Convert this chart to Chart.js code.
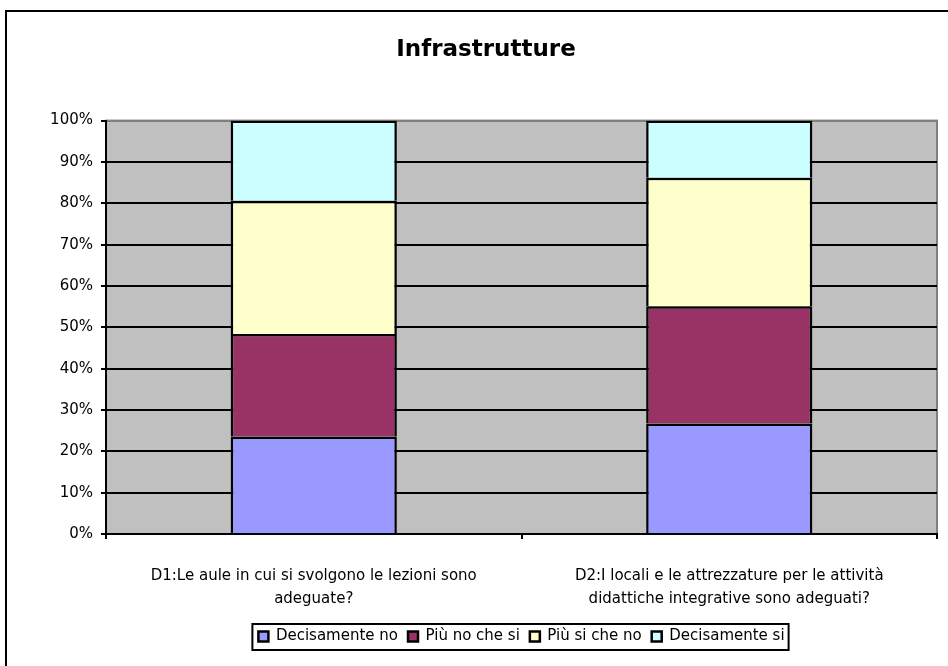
<!DOCTYPE html>
<html>
<head>
<meta charset="utf-8">
<script src="https://cdn.jsdelivr.net/npm/chart.js@4"></script>
<style>
  body { margin: 0; background: #fff; }
  canvas { display: block; }
</style>
</head>
<body>
<canvas id="chart" width="948" height="666"></canvas>
<script>
// categorie (etichette su due righe come nel grafico originale)
const categories = [
    ['D1:Le aule in cui si svolgono le lezioni sono', 'adeguate?'],
    ['D2:I locali e le attrezzature per le attività', 'didattiche integrative sono adeguati?']
];
const seriesNames = ['Decisamente no', 'Più no che si', 'Più si che no', 'Decisamente si'];
const decisamenteNo = [23.6, 26.7];
const piuNoCheSi = [24.8, 28.4];
const piuSiCheNo = [32.2, 31.1];
const decisamenteSi = [19.4, 13.8];
const yTicks = [0, 10, 20, 30, 40, 50, 60, 70, 80, 90, 100];

const colors = ['#9999ff', '#993366', '#ffffcc', '#ccffff'];
const values = [decisamenteNo, piuNoCheSi, piuSiCheNo, decisamenteSi];
const font = 'DejaVu Sans';

const plotBackground = {
    id: 'plotBackground',
    beforeDraw(chart) {
        const c = chart.ctx;
        const a = chart.chartArea;
        c.save();
        c.fillStyle = '#ffffff';
        c.fillRect(0, 0, chart.width, chart.height);
        c.fillStyle = '#c0c0c0';
        c.fillRect(a.left, a.top, a.right - a.left, a.bottom - a.top);
        c.strokeStyle = '#808080';
        c.lineWidth = 2;
        c.strokeRect(a.left, a.top, a.right - a.left, a.bottom - a.top);
        c.restore();
    },
    afterDraw(chart) {
        const c = chart.ctx;
        c.save();
        // cornice esterna del grafico
        c.strokeStyle = '#000';
        c.lineWidth = 2;
        c.beginPath();
        c.moveTo(6, chart.height + 5);
        c.lineTo(6, 11);
        c.lineTo(chart.width + 5, 11);
        c.stroke();
        // riquadro della legenda
        const hb = chart.legend.legendHitBoxes;
        if (hb && hb.length) {
            const first = hb[0], last = hb[hb.length - 1];
            const x1 = first.left - 6;
            const x2 = last.left + last.width + 4;
            const y1 = first.top - 5;
            const y2 = first.top + first.height + 6;
            c.strokeRect(x1, y1, x2 - x1, y2 - y1);
        }
        c.restore();
    }
};

new Chart(document.getElementById('chart').getContext('2d'), {
    type: 'bar',
    data: {
        labels: categories,
        datasets: seriesNames.map((name, i) => ({
            label: name,
            data: values[i],
            backgroundColor: colors[i],
            borderColor: '#000000',
            borderWidth: 2.5,
            barPercentage: 0.4,
            categoryPercentage: 1.0
        }))
    },
    options: {
        responsive: false,
        animation: false,
        layout: { padding: { left: 35, right: 11, top: 0, bottom: 12 } },
        plugins: {
            title: {
                display: true,
                text: 'Infrastrutture',
                color: '#000',
                font: { family: font, size: 23, weight: 'bold', lineHeight: 1.2 },
                padding: { top: 36, bottom: 57 }
            },
            legend: {
                position: 'bottom',
                fullSize: false,
                labels: {
                    color: '#000',
                    font: { family: font, size: 15 },
                    boxWidth: 10,
                    boxHeight: 10,
                    padding: 10
                }
            },
            tooltip: { enabled: false }
        },
        scales: {
            x: {
                stacked: true,
                afterFit(scale) { scale.height = 85; },
                grid: {
                    drawOnChartArea: false,
                    drawTicks: true,
                    tickLength: 5,
                    color: '#000',
                    lineWidth: 2
                },
                border: { color: '#000', width: 2 },
                ticks: {
                    color: '#000',
                    font: { family: font, size: 15, lineHeight: 1.53 },
                    padding: 26,
                    maxRotation: 0,
                    autoSkip: false
                }
            },
            y: {
                stacked: true,
                min: 0,
                max: 100,
                afterFit(scale) { scale.width = 71; },
                afterBuildTicks(scale) { scale.ticks = yTicks.map(v => ({ value: v })); },
                grid: {
                    color: ctx => (ctx.tick && ctx.tick.value === 100 ? '#808080' : '#000'),
                    tickColor: '#000',
                    lineWidth: 2,
                    tickLength: 5
                },
                border: { color: '#000', width: 2 },
                ticks: {
                    color: '#000',
                    font: { family: font, size: 15 },
                    padding: 8,
                    callback: v => v + '%'
                }
            }
        }
    },
    plugins: [plotBackground]
});
</script>
</body>
</html>
